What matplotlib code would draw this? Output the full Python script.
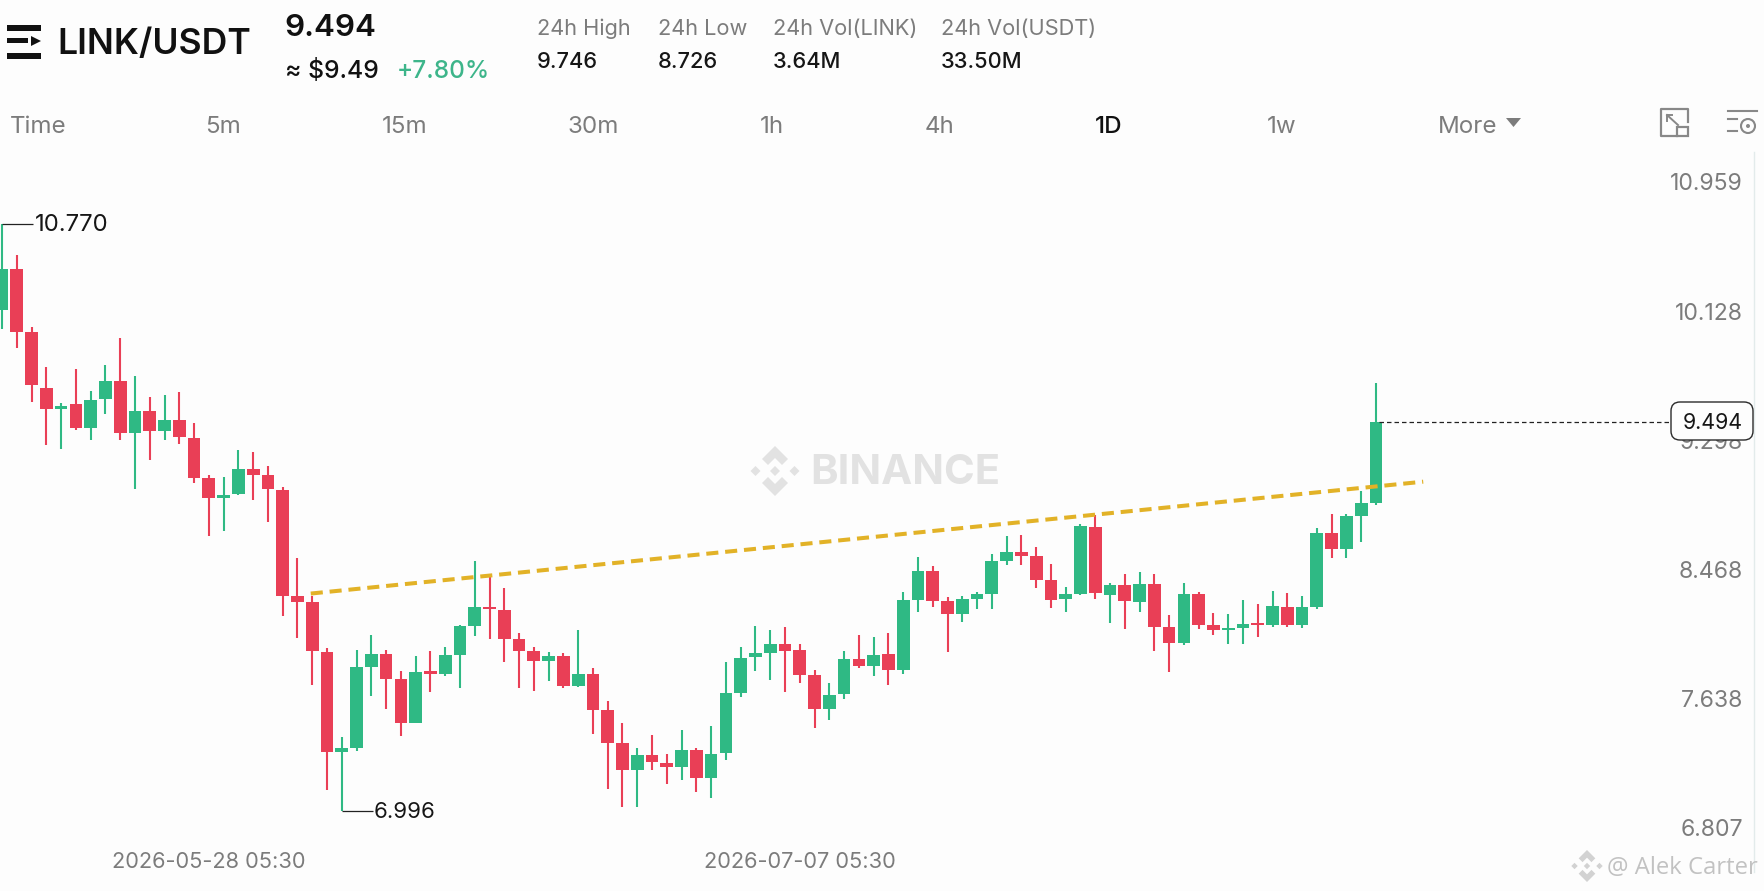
import matplotlib
matplotlib.use("Agg")
import matplotlib.pyplot as plt
from matplotlib.patches import Polygon, Rectangle, FancyBboxPatch, Circle
from matplotlib.transforms import ScaledTranslation

# ---------- data ----------
highs = [10.770,10.567,10.103,9.851,9.617,9.837,9.693,9.861,10.034,9.788,9.654,9.669,9.690,9.491,9.155,9.139,9.318,9.302,9.215,9.076,
         8.619,8.380,8.041,7.471,8.033,8.125,8.031,7.897,7.989,8.026,8.052,8.191,8.600,8.501,8.428,8.141,8.052,8.019,8.013,8.161,
         7.912,7.705,7.563,7.400,7.484,7.362,7.514,7.398,7.542,7.951,8.047,8.184,8.159,8.180,8.071,7.904,7.820,8.026,8.127,8.114,
         8.138,8.405,8.628,8.570,8.373,8.380,8.405,8.645,8.765,8.770,8.690,8.583,8.438,8.840,8.898,8.459,8.519,8.534,8.521,8.255,
         8.461,8.401,8.268,8.262,8.352,8.324,8.408,8.397,8.378,8.812,8.902,8.902,9.052,9.746]
tops = [10.476,10.476,10.076,9.717,9.601,9.614,9.638,9.759,9.759,9.564,9.564,9.509,9.509,9.391,9.136,9.029,9.191,9.191,9.152,9.060,
        8.377,8.338,8.020,7.401,7.920,8.002,8.002,7.844,7.889,7.895,7.996,8.186,8.304,8.304,8.287,8.099,8.024,7.994,7.994,7.878,
        7.878,7.645,7.432,7.357,7.357,7.306,7.385,7.385,7.364,7.754,7.981,8.013,8.067,8.067,8.028,7.867,7.743,7.974,7.974,8.000,
        8.003,8.350,8.540,8.540,8.348,8.356,8.393,8.600,8.662,8.662,8.635,8.478,8.390,8.825,8.823,8.448,8.448,8.455,8.455,8.180,
        8.388,8.388,8.193,8.170,8.200,8.202,8.311,8.309,8.307,8.785,8.785,8.892,8.977,9.494]
bottoms = [10.218,10.076,9.735,9.578,9.580,9.457,9.459,9.641,9.428,9.428,9.438,9.438,9.399,9.136,9.010,9.008,9.031,9.152,9.063,8.380,
           8.341,8.023,7.377,7.374,7.403,7.920,7.844,7.563,7.563,7.878,7.876,7.996,8.184,8.291,8.103,8.024,7.959,7.959,7.799,7.799,
           7.645,7.435,7.257,7.257,7.308,7.278,7.280,7.210,7.210,7.368,7.754,7.983,8.013,8.026,7.872,7.651,7.651,7.745,7.925,7.927,
           7.902,7.900,8.354,8.348,8.264,8.264,8.356,8.390,8.600,8.632,8.478,8.354,8.356,8.393,8.395,8.386,8.343,8.341,8.180,8.078,
           8.073,8.193,8.157,8.157,8.172,8.189,8.191,8.193,8.191,8.307,8.680,8.680,8.892,8.973]
lows = [10.095,9.971,9.622,9.349,9.320,9.446,9.381,9.546,9.378,9.063,9.252,9.381,9.352,9.105,8.763,8.795,9.026,8.997,8.850,8.249,
        8.110,7.808,7.130,6.996,7.382,7.737,7.653,7.479,7.558,7.758,7.865,7.788,8.122,8.099,7.951,7.784,7.769,7.833,7.784,7.794,
        7.490,7.135,7.019,7.023,7.259,7.171,7.193,7.118,7.081,7.321,7.730,7.893,7.839,7.762,7.818,7.527,7.578,7.717,7.917,7.863,
        7.804,7.874,8.277,8.309,8.020,8.213,8.294,8.292,8.577,8.579,8.427,8.303,8.275,8.384,8.356,8.202,8.168,8.275,8.024,7.889,
        8.065,8.168,8.127,8.071,8.069,8.114,8.178,8.178,8.172,8.296,8.622,8.624,8.725,8.965]
directions = ["G","R","R","R","G","R","G","G","R","G","R","G","R","R","R","G","G","R","R","R",
              "R","R","R","G","G","G","R","R","G","R","G","G","G","R","R","R","R","G","R","G",
              "R","R","R","G","R","R","G","R","G","G","G","G","G","R","R","R","G","G","R","G",
              "R","G","G","R","R","G","G","G","G","R","R","R","G","G","R","G","R","G","R","R",
              "G","R","R","G","G","R","G","R","G","G","R","G","G","G"]
trend_x = [20.9, 96.2]
trend_y = [8.393, 9.112]
last_price = 9.494
y_ticks = [10.959, 10.128, 9.298, 8.468, 7.638, 6.807]
y_labels = ["10.959", "10.128", "9.298", "8.468", "7.638", "6.807"]
x_ticks = [14, 54]
x_labels = ["2026-05-28 05:30", "2026-07-07 05:30"]
tabs = ["5m", "15m", "30m", "1h", "4h", "1D", "1w"]
stats_names = ["24h High", "24h Low", "24h Vol(LINK)", "24h Vol(USDT)"]
stats_values = ["9.746", "8.726", "3.64M", "33.50M"]

# ---------- layout ----------
W, H = 1764, 891
FONT = "Inter"
GREEN, RED = "#2FB984", "#E93F56"
GREY = "#7C7C7C"
DARK = "#161616"
plt.rcParams["font.family"] = [FONT, "DejaVu Sans"]

fig = plt.figure(figsize=(W / 100, H / 100), dpi=100, facecolor="#FDFDFD")
ax_top, ax_bot, ax_right = 152, 845, 1754
ax = fig.add_axes([0, 1 - ax_bot / H, ax_right / W, (ax_bot - ax_top) / H], facecolor="none")
ax.set_xlim(-0.1354, 118.59)
ax.set_ylim(6.777, 11.2308)
for s in ax.spines.values():
    s.set_visible(False)

xs = list(range(len(highs)))
colors = [GREEN if d == "G" else RED for d in directions]
ax.vlines(xs, lows, highs, colors=colors, linewidth=1.5, zorder=2)
ax.bar(xs, [t - b for t, b in zip(tops, bottoms)], bottom=bottoms, width=0.86,
       color=colors, linewidth=0, zorder=3)

# trend line
ax.plot(trend_x, trend_y, color="#E2B227", linewidth=2.9, dashes=(3.0, 1.7),
        dash_capstyle="butt", zorder=4)

# high / low leaders
imax, imin = highs.index(max(highs)), lows.index(min(lows))
ax.plot([imax, imax + 2.1], [highs[imax]] * 2, color="#222222", lw=0.9, zorder=5, solid_capstyle="butt")
ax.plot([imin, imin + 2.1], [lows[imin]] * 2, color="#222222", lw=0.9, zorder=5, solid_capstyle="butt")
ax.annotate(f"{highs[imax]:.3f}", (imax + 2.2, highs[imax]), xytext=(0, -0.8), textcoords="offset points",
            fontsize=17.2, color=DARK, va="center", ha="left")
ax.annotate(f"{lows[imin]:.3f}", (imin + 2.15, lows[imin]), xytext=(0, -0.8), textcoords="offset points",
            fontsize=16, color=DARK, va="center", ha="left")

# last price line
ax.plot([93.2, 113.1], [last_price] * 2, color="#222222", lw=0.9, dashes=(3.6, 2.4), zorder=5)

# axes ticks
ax.yaxis.tick_right()
ax.set_yticks(y_ticks)
ax.set_yticklabels(y_labels, fontsize=16.6, color=GREY, ha="right", va="bottom")
ax.tick_params(axis="y", length=0, pad=-8)
shift = ScaledTranslation(0, -1 / 100, fig.dpi_scale_trans)
for lab in ax.get_yticklabels():
    lab.set_transform(lab.get_transform() + shift)
ax.set_xticks(x_ticks)
ax.set_xticklabels(x_labels, fontsize=15.7, color=GREY)
ax.tick_params(axis="x", length=0, pad=5)

# ---------- overlay in pixel coordinates ----------
ov = fig.add_axes([0, 0, 1, 1], facecolor="none")
ov.set_xlim(0, W)
ov.set_ylim(H, 0)
ov.axis("off")


def logo(cx, cy, r, color, zorder=1):
    def P(pts):
        ov.add_patch(Polygon([(cx + x * r, cy - y * r) for x, y in pts], closed=True, fc=color, ec="none", zorder=zorder))
    d = 0.2
    for ox, oy in [(0, 0), (-0.78, 0), (0.78, 0)]:
        P([(ox, oy + d), (ox + d, oy), (ox, oy - d), (ox - d, oy)])
    top = [(0, 1), (0.52, 0.48), (0.28, 0.24), (0, 0.52), (-0.28, 0.24), (-0.52, 0.48)]
    P(top)
    P([(x, -y) for x, y in top])


# right axis line
ov.plot([1754, 1754], [152, 872], color="#E3EBEB", lw=1)

# watermarks
logo(775, 471, 25, "#E2E2E2")
ov.text(810, 473, "BINANCE", fontsize=30, fontweight="bold", color="#E2E2E2", va="center", ha="left")
logo(1587, 866, 16, "#D2D2D2")
ov.text(1607, 868, "@ Alek Carter", fontsize=17.2, color="#C2C2C2", va="center", ha="left", family="Open Sans")

# price tag
ov.add_patch(FancyBboxPatch((1677, 408), 70, 26, boxstyle="round,pad=6,rounding_size=9", fc="#FDFDFD", ec="#2A2A2A", lw=1, zorder=6))
ov.text(1713, 423, f"{last_price:.3f}", fontsize=15.4, color=DARK, va="center", ha="center", zorder=7)

# header icon
ov.add_patch(Rectangle((7, 25), 34, 6, fc="#111111"))
ov.add_patch(Rectangle((7, 38), 21, 5, fc="#111111"))
ov.add_patch(Polygon([(31, 36), (41, 41), (31, 46)], fc="#111111"))
ov.add_patch(Rectangle((7, 53), 34, 6, fc="#111111"))

ov.text(57, 45, "LINK/USDT", fontsize=25.6, fontweight="semibold", color="#111111", va="center", ha="left")
ov.text(284, 28, f"{last_price:.3f}", fontsize=22.6, fontweight="semibold", color="#111111", va="center", ha="left")
ov.text(285, 71, "≈ $9.49", fontsize=17.8, fontweight="medium", color="#111111", va="center", ha="left")
ov.text(397, 71, "+7.80%", fontsize=17.6, fontweight="medium", color="#3DB58A", va="center", ha="left")

for x, name, val in zip([537, 658, 773, 941], stats_names, stats_values):
    ov.text(x, 29, name, fontsize=15.7, color=GREY, va="center", ha="left")
    ov.text(x, 62, val, fontsize=15.7, fontweight="medium", color="#161616", va="center", ha="left")

ov.text(10, 127, "Time", fontsize=17.4, color=GREY, va="center", ha="left")
for cx, t in zip([223, 405, 593, 772, 939, 1109, 1282], tabs):
    active = t == "1D"
    ov.text(cx, 127, t, fontsize=17.4, color="#111111" if active else GREY,
            fontweight="medium" if active else "normal", va="center", ha="center")
ov.text(1438, 127, "More", fontsize=17.4, color=GREY, va="center", ha="left")
ov.add_patch(Polygon([(1506, 118), (1521, 118), (1513.5, 127)], fc=GREY))

# toolbar icons
ic = "#888888"
ov.plot([1677, 1661, 1661, 1688, 1688], [136, 136, 109, 109, 122], color=ic, lw=1.6)
ov.add_patch(Rectangle((1677, 127), 11, 9, fc="none", ec=ic, lw=1.6))
ov.plot([1667, 1678], [115, 125], color=ic, lw=1.4)
ov.plot([1667, 1667, 1672], [121, 115, 115], color=ic, lw=1.4)
ov.plot([1728, 1757], [111, 111], color=ic, lw=1.5)
ov.plot([1728, 1737], [119, 119], color=ic, lw=1.5)
ov.plot([1728, 1737], [131, 131], color=ic, lw=1.5)
ov.add_patch(Circle((1748, 126), 7, fc="none", ec=ic, lw=1.5))
ov.add_patch(Circle((1748, 126), 2, fc=ic, ec="none"))

fig.savefig("out.png", dpi=100, facecolor=fig.get_facecolor())
